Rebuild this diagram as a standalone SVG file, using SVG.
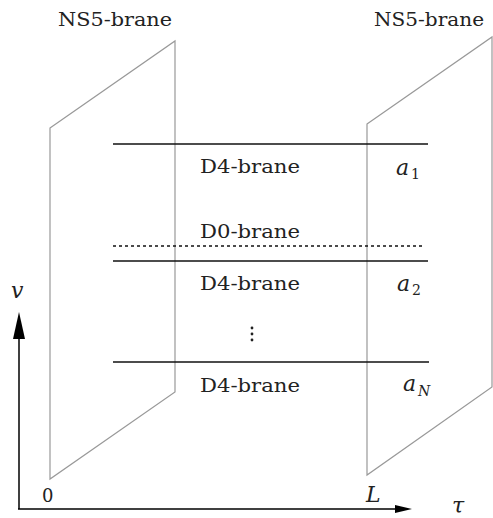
<svg xmlns="http://www.w3.org/2000/svg" width="493" height="518" viewBox="0 0 493 518">
<style>
text{font-family:"DejaVu Serif","Liberation Serif",serif;fill:#222}
.t{font-size:18px}
.m{font-style:italic;font-size:22px}
.s{font-size:14px}
.si{font-style:italic;font-size:14px}
.plane{fill:none;stroke:#999;stroke-width:1.2}
.d4{stroke:#111;stroke-width:1.5}
.ax{stroke:#000;stroke-width:1.5}
</style>
<rect width="493" height="518" fill="#fff"/>
<g id="ns5-left">
<polygon class="plane" points="50,128 175,41 175,392 50,479"/>
<text class="t" x="58" y="26" textLength="114" lengthAdjust="spacingAndGlyphs">NS5-brane</text>
</g>
<g id="ns5-right">
<polygon class="plane" points="367,124 492,37 492,387 367,475"/>
<text class="t" x="374" y="26" textLength="110" lengthAdjust="spacingAndGlyphs">NS5-brane</text>
</g>
<g id="connectors">
<line class="d4" x1="113" y1="144" x2="428" y2="144"/>
<line x1="113" y1="246" x2="423" y2="246" stroke="#111" stroke-width="1.3" stroke-dasharray="3,3"/>
<line class="d4" x1="113" y1="261" x2="428" y2="261"/>
<line class="d4" x1="113" y1="362" x2="429" y2="362"/>
<line class="ax" x1="19" y1="509" x2="19" y2="330"/>
<polygon points="19,312 13,339 25,339" fill="#000"/>
<line class="ax" x1="18" y1="509" x2="400" y2="509"/>
<polygon points="412,509 395,505 395,513" fill="#000"/>
</g>
<g id="d4-1">
<text class="t" x="200" y="173" textLength="100" lengthAdjust="spacingAndGlyphs">D4-brane</text>
<text class="m" x="396" y="175">a</text><text class="s" x="411" y="179">1</text>
</g>
<g id="d0">
<text class="t" x="200" y="238" textLength="100" lengthAdjust="spacingAndGlyphs">D0-brane</text>
</g>
<g id="d4-2">
<text class="t" x="200" y="290" textLength="100" lengthAdjust="spacingAndGlyphs">D4-brane</text>
<text class="m" x="397" y="291">a</text><text class="s" x="412" y="295">2</text>
</g>
<g id="dots">
<circle cx="252" cy="328" r="1.4" fill="#222"/>
<circle cx="252" cy="334" r="1.4" fill="#222"/>
<circle cx="252" cy="340" r="1.4" fill="#222"/>
</g>
<g id="d4-3">
<text class="t" x="200" y="392" textLength="100" lengthAdjust="spacingAndGlyphs">D4-brane</text>
<text class="m" x="403" y="391">a</text><text class="si" x="418" y="396">N</text>
</g>
<g id="labels">
<text class="m" x="11" y="298">v</text>
<text class="t" x="42" y="502">0</text>
<text class="m" x="366" y="502">L</text>
<text class="m" x="452" y="513">τ</text>
</g>
</svg>
